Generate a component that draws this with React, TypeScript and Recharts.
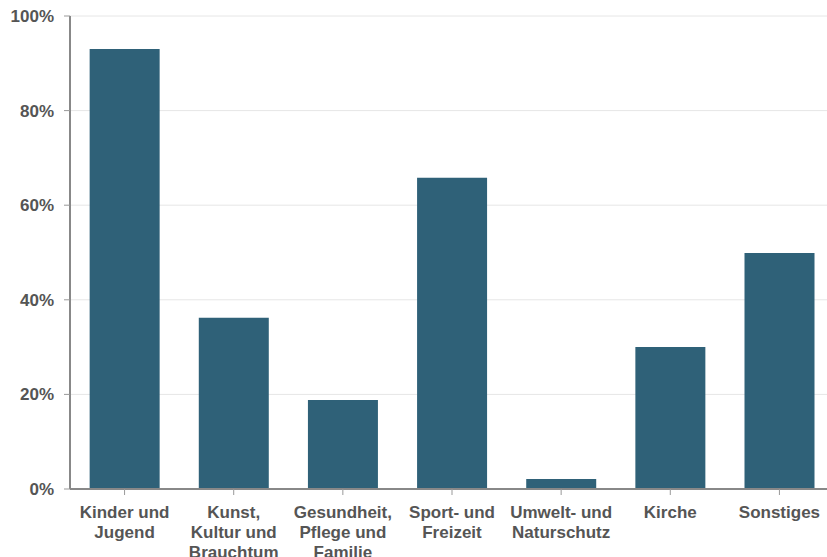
import { Bar, BarChart, CartesianGrid, XAxis, YAxis } from 'recharts'

const categories = [
	'Kinder und\nJugend',
	'Kunst,\nKultur und\nBrauchtum',
	'Gesundheit,\nPflege und\nFamilie',
	'Sport- und\nFreizeit',
	'Umwelt- und\nNaturschutz',
	'Kirche',
	'Sonstiges',
]

const shares = [93, 36.2, 18.8, 65.8, 2.1, 30, 49.9]

const yTicks = [0, 20, 40, 60, 80, 100]

const data = categories.map((name, i) => ({ name, value: shares[i] }))

const font = '"Liberation Sans", Arial, sans-serif'

const CategoryTick = (props: any) => {
	const { x, y, payload } = props
	const lines = String(payload.value).split('\n')
	return (
		<g transform={`translate(${x},${y})`}>
			<text textAnchor="middle" fill="#555" fontFamily={font} fontSize={17} fontWeight="bold">
				{lines.map((l, i) => (
					<tspan key={i} x={0} y={21 + i * 20}>
						{l}
					</tspan>
				))}
			</text>
		</g>
	)
}

export default function App() {
	return (
		<div style={{ position: 'absolute', left: 0, top: 0, width: 827, height: 557, overflow: 'hidden', background: '#fff' }}>
			<BarChart width={834} height={557} data={data} margin={{ top: 16, right: 0, bottom: 0, left: 0 }} barCategoryGap="18%">
				<CartesianGrid vertical={false} stroke="#e6e6e6" />
				<XAxis
					dataKey="name"
					height={68}
					tick={<CategoryTick />}
					tickSize={6}
					interval={0}
					axisLine={{ stroke: '#888', strokeWidth: 2 }}
					tickLine={{ stroke: '#999' }}
				/>
				<YAxis
					width={70}
					domain={[0, 100]}
					ticks={yTicks}
					tickFormatter={(v: number) => `${v}%`}
					tickSize={6}
					tickMargin={10}
					axisLine={{ stroke: '#888', strokeWidth: 2 }}
					tickLine={{ stroke: '#999' }}
					tick={{ fill: '#555', fontFamily: font, fontSize: 17, fontWeight: 'bold' }}
				/>
				<Bar dataKey="value" fill="#2F6178" isAnimationActive={false} />
			</BarChart>
		</div>
	)
}
